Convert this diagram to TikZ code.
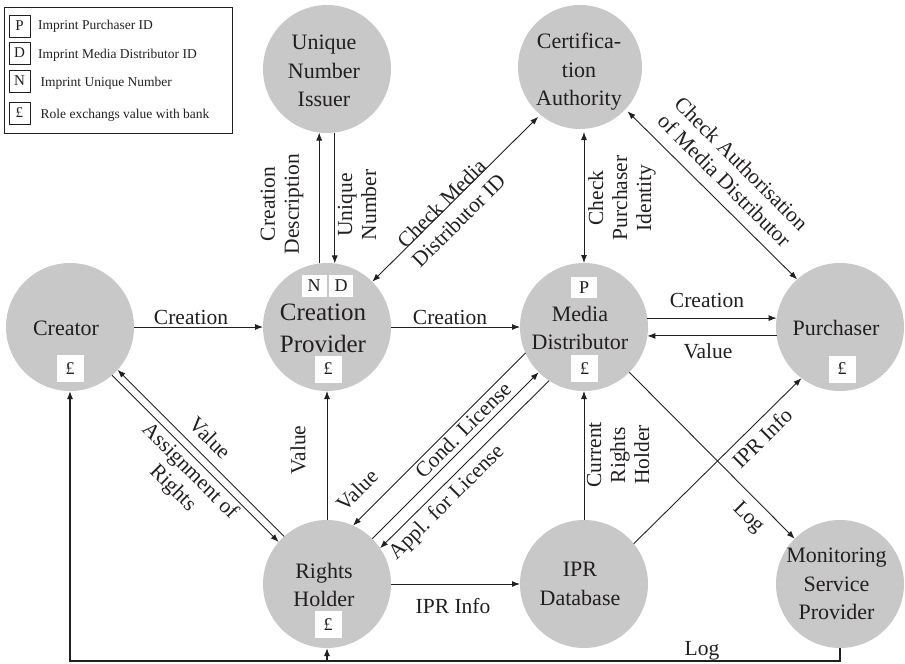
\documentclass[tikz,border=0pt]{standalone}
\usepackage{fontspec}
\setmainfont{Liberation Serif}
\usetikzlibrary{arrows.meta}
\definecolor{nodegray}{RGB}{200,200,201}
\definecolor{ink}{RGB}{35,31,32}
\begin{document}
\begin{tikzpicture}[x=1pt,y=-1pt,
  role/.style={circle,fill=nodegray,minimum size=128pt,inner sep=0pt,outer sep=0pt},
  rtext/.style={align=center,font=\fontsize{22}{28.5}\selectfont,text=ink,inner sep=0pt},
  badge/.style={fill=white,minimum width=27pt,minimum height=27pt,inner sep=0pt,font=\fontsize{18}{18}\selectfont,text=ink},
  lbox/.style={draw=ink,line width=0.6pt,fill=white,minimum width=21pt,minimum height=22pt,inner sep=0pt,font=\fontsize{15}{15}\selectfont,text=ink},
  ltext/.style={anchor=base west,inner sep=0pt,font=\fontsize{13.5}{15}\selectfont,text=ink},
  elabel/.style={align=center,font=\fontsize{21.5}{24}\selectfont,text=ink,inner sep=0pt},
  arr/.style={draw=ink,line width=0.9pt,-{Latex[length=8pt,width=6pt]}},
  darr/.style={draw=ink,line width=0.9pt,{Latex[length=8pt,width=6pt]}-{Latex[length=8pt,width=6pt]}}]
\useasboundingbox (0,0) rectangle (905,664);

% legend
\node[draw=ink,line width=0.6pt,minimum width=228pt,minimum height=126pt,inner sep=0pt] (legend) at (118,70) {};
\node[lbox] (lp) at (19.5,26) {P};
\node[lbox] (ld) at (19.5,53) {D};
\node[lbox] (ln) at (19.5,81) {N};
\node[lbox] (lb) at (19.5,113) {£};
\node[ltext] (lpt) at (38,29.5) {Imprint Purchaser ID};
\node[ltext] (ldt) at (38,58) {Imprint Media Distributor ID};
\node[ltext] (lnt) at (40.5,86) {Imprint Unique Number};
\node[ltext] (lbt) at (40.5,118.5) {Role exchangs value with bank};

% role circles
\node[role] (cr) at (70,327) {};
\node[role] (uni) at (327,69) {};
\node[role,minimum size=124pt,outer sep=3pt] (ca) at (580,67) {};
\node[role] (cp) at (327,327) {};
\node[role] (md) at (584,327) {};
\node[role] (pu) at (840,327) {};
\node[role] (rh) at (327,584) {};
\node[role] (ipr) at (584,584) {};
\node[role] (msp) at (840,584) {};

% role names
\node[rtext,anchor=base] (crT) at (66,335) {Creator};
\node[rtext] (uniT) at (324,71) {Unique\\Number\\Issuer};
\node[rtext] (caT) at (579,72) {Certifica-\\tion\\Authority};
\node[rtext,font=\fontsize{25}{32}\selectfont] (cpT) at (323,328) {Creation\\Provider};
\node[rtext] (mdT) at (580,328) {Media\\Distributor};
\node[rtext,anchor=base] (puT) at (836,335) {Purchaser};
\node[rtext] (rhT) at (324,585) {Rights\\Holder};
\node[rtext] (iprT) at (580,584) {IPR\\Database};
\node[rtext] (mspT) at (836.5,584) {Monitoring\\Service\\Provider};

% badges
\node[badge] (crB) at (70,368.5) {£};
\node[badge,minimum width=25pt,minimum height=22pt] (cpN) at (314,286) {N};
\node[badge,minimum width=24pt,minimum height=22pt] (cpD) at (341,286) {D};
\node[badge] (cpB) at (328,369) {£};
\node[badge,minimum width=26pt,minimum height=21pt] (mdP) at (584,287.5) {P};
\node[badge] (mdB) at (584.5,368.5) {£};
\node[badge] (puB) at (842,369) {£};
\node[badge] (rhB) at (328,624.5) {£};

% connectors
\draw[arr] (cr.east) -- (cp.west);
\draw[arr] (cp.east) -- (md.west);
\draw[arr] (md.8) -- (pu.172);
\draw[arr] (pu.188) -- (md.352);
\draw[arr] (cp.97) -- (uni.263);
\draw[arr] (uni.277) -- (cp.83);
\draw[darr] (cp.45) -- (ca.230);
\draw[darr] (md.north) -- (md.north |- ca.south);
\draw[darr] (ca.-43) -- (pu.132);
\draw[arr] (rh.132) -- (cr.318);
\draw[arr] (cr.311) -- (rh.139);
\draw[arr] (rh.north) -- (cp.south);
\draw[arr] (md.204) -- (rh.66);
\draw[arr] (rh.45) -- (md.225);
\draw[arr] (md.237) -- (rh.34);
\draw[arr] (ipr.north) -- (md.south);
\draw[arr] (rh.east) -- (ipr.west);
\draw[arr] (ipr.39) -- (pu.233);
\draw[arr] (md.315) -- (msp.135);
\coordinate (bot) at (0,661);
\draw[arr,line width=1.1pt] (msp.south) -- (msp.south |- bot) -| (cr.south);
\draw[arr,line width=1.1pt] (rh.south |- bot) -- (rh.south);

% connector labels
\node[elabel,anchor=base] (l1) at (191,324) {Creation};
\node[elabel,anchor=base] (l2) at (450,324) {Creation};
\node[elabel,anchor=base] (l3) at (707,307) {Creation};
\node[elabel,anchor=base] (l4) at (708,358) {Value};
\node[elabel,anchor=base] (l5) at (453,613) {IPR Info};
\node[elabel,anchor=base] (l6) at (702,655) {Log};
\node[elabel,rotate=90] (l7) at (282,204) {Creation\\Description};
\node[elabel,rotate=90] (l8) at (357,205) {Unique\\Number};
\node[elabel,rotate=45] (l9) at (450,212) {Check Media\\Distributor ID};
\node[elabel,rotate=90] (l10) at (622,198) {Check\\Purchaser\\Identity};
\node[elabel,rotate=-45] (l11) at (733,172) {Check Authorisation\\of Media Distributor};
\node[elabel,rotate=-45] (l12) at (210,438) {Value};
\node[elabel,rotate=-45] (l13) at (181,480) {Assignment of\\Rights};
\node[elabel,rotate=90] (l14) at (298,450) {Value};
\node[elabel,rotate=45] (l15) at (357,490) {Value};
\node[elabel,rotate=45] (l16) at (463,430) {Cond. License};
\node[elabel,rotate=45] (l17) at (447,503) {Appl. for License};
\node[elabel,rotate=90] (l18) at (618,455) {Current\\Rights\\Holder};
\node[elabel,rotate=45] (l19) at (762,438) {IPR Info};
\node[elabel,rotate=-45] (l20) at (748,518) {Log};
\end{tikzpicture}
\end{document}
